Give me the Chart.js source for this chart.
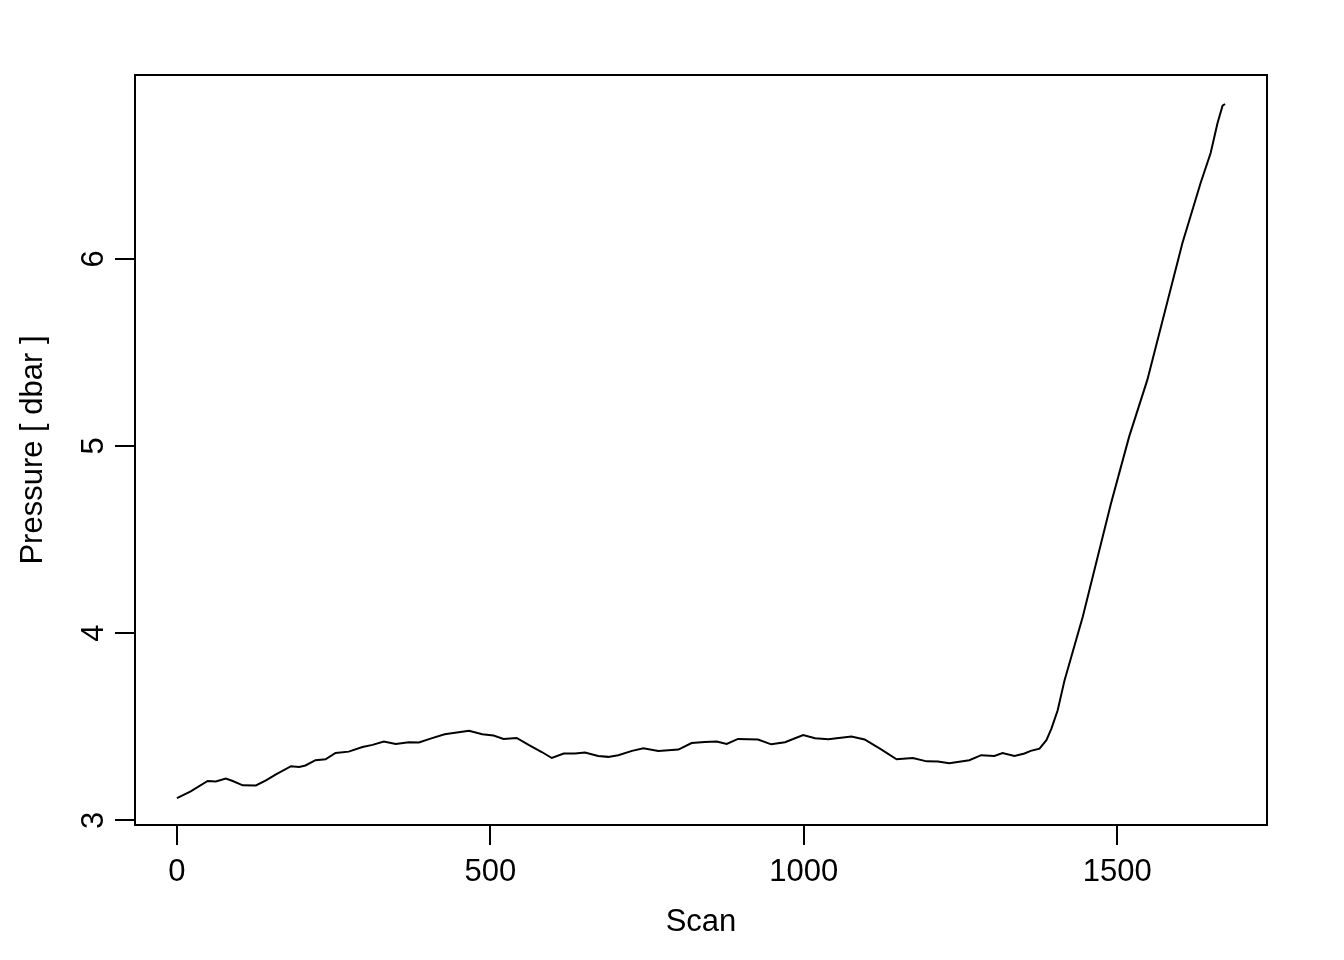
<!DOCTYPE html>
<html>
<head>
<meta charset="utf-8">
<script src="https://cdn.jsdelivr.net/npm/chart.js"></script>
<style>
    html, body { margin: 0; padding: 0; background: #ffffff; }
    #wrap { width: 1344px; height: 960px; }
</style>
</head>
<body>
<div id="wrap"><canvas id="myChart" width="1344" height="960"></canvas></div>
<script>
// values
const scans = [
    0, 22, 49, 62, 78, 89, 105, 126, 142, 158, 182, 195, 205, 221, 237, 253, 274, 296, 312, 330,
    349, 370, 386, 407, 427, 466, 487, 505, 521, 542, 561, 582, 598, 617, 635, 651, 672, 688, 704, 726,
    744, 768, 800, 821, 842, 861, 877, 895, 927, 948, 970, 999, 1018, 1039, 1076, 1097, 1124, 1148, 1174, 1196,
    1214, 1232, 1264, 1283, 1304, 1317, 1336, 1352, 1362, 1376, 1387, 1395, 1405, 1416, 1445, 1490, 1519, 1548, 1604, 1633,
    1649, 1660, 1668, 1672
];
const pressure = [
    3.119, 3.155, 3.210, 3.207, 3.223, 3.210, 3.187, 3.186, 3.214, 3.246, 3.289, 3.285, 3.293, 3.321, 3.326, 3.360, 3.367, 3.392, 3.403, 3.421,
    3.408, 3.417, 3.416, 3.439, 3.460, 3.478, 3.460, 3.453, 3.435, 3.440, 3.403, 3.365, 3.333, 3.357, 3.357, 3.362, 3.344, 3.339, 3.348, 3.371,
    3.385, 3.371, 3.378, 3.413, 3.419, 3.421, 3.408, 3.435, 3.432, 3.406, 3.417, 3.456, 3.439, 3.433, 3.448, 3.432, 3.378, 3.326, 3.333, 3.315,
    3.314, 3.305, 3.321, 3.348, 3.344, 3.360, 3.344, 3.357, 3.371, 3.383, 3.428, 3.490, 3.588, 3.749, 4.087, 4.693, 5.050, 5.353, 6.084, 6.405,
    6.565, 6.726, 6.818, 6.827
];
const xTicks = [0, 500, 1000, 1500];
const yTicks = [3, 4, 5, 6];

const FONT = { family: "'Liberation Sans', Arial, Helvetica, sans-serif", size: 31 };

const points = scans.map((s, i) => ({ x: s, y: pressure[i] }));

// R style box around the plot region
const boxPlugin = {
    id: 'box',
    afterDraw(chart) {
        const a = chart.chartArea;
        const ctx = chart.ctx;
        ctx.save();
        ctx.strokeStyle = '#000000';
        ctx.lineWidth = 2;
        ctx.strokeRect(a.left, a.top, a.right - a.left, a.bottom - a.top);
        ctx.restore();
    }
};

const ctx = document.getElementById('myChart').getContext('2d');
const myChart = new Chart(ctx, {
    type: 'line',
    data: {
        datasets: [
            {
                label: 'Pressure',
                data: points,
                borderColor: '#000000',
                borderWidth: 2,
                pointRadius: 0,
                tension: 0,
                fill: false,
            },
        ],
    },
    options: {
        responsive: false,
        animation: false,
        layout: { padding: { left: 0, top: 75, right: 77, bottom: 0 } },
        plugins: {
            legend: { display: false },
            tooltip: { enabled: false },
        },
        scales: {
            x: {
                type: 'linear',
                min: -66.9,
                max: 1738.9,
                afterBuildTicks: (scale) => { scale.ticks = xTicks.map((v) => ({ value: v })); },
                afterFit: (scale) => { scale.height = 135; },
                grid: { drawOnChartArea: false, drawTicks: true, tickLength: 20, color: '#000000', lineWidth: 2 },
                border: { display: false },
                ticks: { color: '#000000', font: FONT, padding: 9, maxRotation: 0, autoSkip: false, callback: (v) => String(v) },
                title: { display: true, text: 'Scan', color: '#000000', font: FONT, padding: { top: 0, bottom: 19 } },
            },
            y: {
                type: 'linear',
                min: 2.975,
                max: 6.982,
                afterBuildTicks: (scale) => { scale.ticks = yTicks.map((v) => ({ value: v })); },
                afterFit: (scale) => { scale.width = 135; },
                grid: { drawOnChartArea: false, drawTicks: true, tickLength: 20, color: '#000000', lineWidth: 2 },
                border: { display: false },
                ticks: { color: '#000000', font: FONT, padding: 12, minRotation: 90, maxRotation: 90, crossAlign: 'center', autoSkip: false, callback: (v) => String(v) },
                title: { display: true, text: 'Pressure [ dbar ]', color: '#000000', font: FONT, padding: { top: 15, bottom: 0 } },
            },
        },
    },
    plugins: [boxPlugin],
});
</script>
</body>
</html>
